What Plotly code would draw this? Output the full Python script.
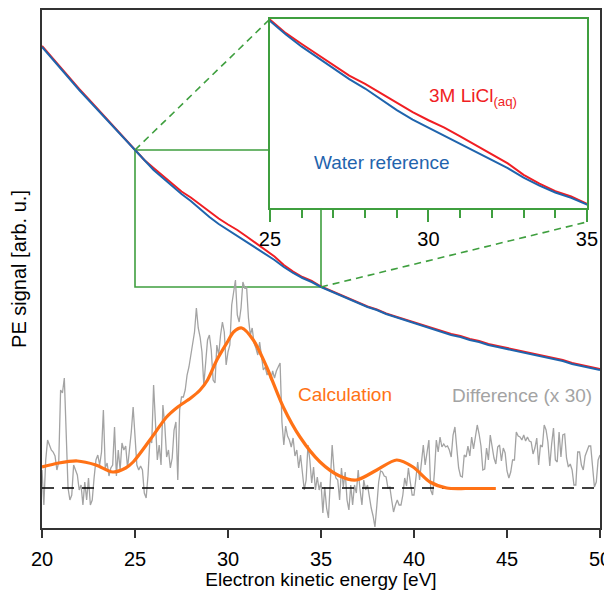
import numpy as np
import plotly.graph_objects as go

# main spectra (arb. u.), sampled every 0.5 eV
energy = np.arange(20, 50.01, 0.5)
water_ref = [481, 470, 459, 449, 438, 428, 418, 408, 397, 387,
             377, 367, 358, 350, 342, 334, 327, 319, 311, 304,
             298, 292, 286, 280, 274, 268, 261, 255, 250, 246,
             241, 237, 233, 229, 225, 221, 218, 214, 211, 208,
             205, 202, 199, 196, 193, 191, 188, 186, 183, 181,
             179, 177, 175, 173, 171, 169, 167, 164, 162, 160, 158]
licl = [482, 471, 460, 450, 439, 429, 419, 409, 398, 388,
        378, 368, 360, 352, 344, 336.5, 330.5, 323.5, 316, 309.5,
        303.5, 298, 291.5, 285, 278, 271.5, 263, 256.5, 251, 247,
        241.5, 237.5, 233.5, 229.5, 225.5, 221.5, 218.5, 214.5, 211.5, 208.5,
        206, 203, 200, 197, 194, 192, 189, 187, 184, 182,
        180, 178, 176, 174, 172, 170, 168, 165, 163, 161, 159]

# difference spectrum (x 30), 0.1 eV grid
diff_energy = np.round(np.linspace(20, 50, 301), 1)
diff_x30 = [
    58, 23, 68, 88, 83, 78, 76, 72, 58, 66,
    138, 135, 150, 98, 40, 28, 33, 63, 58, 53,
    38, 43, 23, 46, 28, 50, 23, 28, 50, 68,
    73, 63, 76, 118, 60, 65, 52, 60, 63, 101,
    52, 78, 58, 85, 78, 82, 60, 76, 96, 121,
    85, 63, 58, 62, 58, 35, 30, 53, 88, 85,
    143, 108, 68, 83, 63, 123, 103, 71, 78, 60,
    70, 98, 106, 48, 118, 131, 131, 138, 153, 161,
    173, 188, 196, 220, 200, 191, 176, 143, 166, 188,
    193, 178, 148, 145, 183, 173, 193, 206, 196, 163,
    176, 183, 223, 236, 248, 213, 206, 220, 246, 240,
    241, 210, 193, 200, 185, 180, 173, 186, 173, 158,
    161, 153, 156, 148, 157, 150, 157, 161, 165, 106,
    83, 102, 92, 88, 81, 90, 72, 78, 60, 73,
    55, 38, 48, 83, 68, 45, 61, 38, 51, 38,
    46, 15, 41, 20, 10, 53, 83, 58, 50, 48,
    28, 60, 41, 56, 28, 18, 43, 23, 43, 35,
    58, 38, 23, 48, 38, 43, 30, 20, 12, 1,
    22, 46, 57, 56, 52, 51, 40, 41, 28, 16,
    23, 28, 23, 23, 33, 50, 42, 60, 46, 33,
    33, 53, 66, 48, 66, 83, 63, 78, 88, 38,
    33, 56, 88, 76, 91, 81, 84, 81, 82, 78,
    71, 93, 101, 80, 60, 52, 51, 73, 71, 82,
    72, 91, 79, 91, 103, 94, 82, 58, 59, 80,
    68, 93, 79, 70, 64, 81, 83, 67, 80, 75,
    57, 50, 56, 68, 68, 96, 92, 91, 88, 93,
    87, 91, 87, 86, 74, 80, 90, 63, 83, 81,
    103, 98, 86, 62, 84, 100, 68, 66, 96, 71,
    93, 94, 70, 61, 64, 58, 43, 43, 76, 76,
    63, 58, 72, 78, 82, 82, 58, 41, 46, 68,
    73]

calc_energy = [20, 20.9, 21.9, 22.9, 23.8, 24.5, 24.9, 25.8, 26.7, 27.3,
               28.0, 28.5, 28.9, 29.4, 30.0, 30.3, 30.74, 31.36, 32.08, 32.97,
               33.87, 34.95, 36.0, 36.9, 38.0, 39.07, 39.95, 40.86, 41.76, 42.8,
               43.6, 44.4]
calc = [61, 65, 67, 63, 56, 60, 66, 88, 111, 121,
        130, 138, 148, 168, 187, 196, 200, 188, 161, 121,
        91, 66, 52, 48, 58, 68, 61, 46, 40, 39.5,
        39.5, 39.5]
baseline = 40

zoom_range = [25, 35]

RED = "#f01e23"
BLUE = "#1f64ad"
ORANGE = "#ff7216"
GRAY = "#a3a3a3"
GREEN = "#3f9f3f"
FONT = "Liberation Sans, Arial, sans-serif"

YMAX = 518
inset_x = [0.4086, 0.9767]
inset_y = [0.6178, 0.9826]

fig = go.Figure()

fig.add_trace(go.Scatter(x=diff_energy, y=diff_x30, mode="lines",
                         line=dict(color=GRAY, width=1.3)))
fig.add_trace(go.Scatter(x=[20, 50], y=[baseline, baseline], mode="lines",
                         line=dict(color="black", width=1.5, dash="12px,8px")))
fig.add_trace(go.Scatter(x=calc_energy, y=calc, mode="lines",
                         line=dict(color=ORANGE, width=3.2, shape="spline", smoothing=0.8)))
fig.add_trace(go.Scatter(x=energy, y=licl, mode="lines",
                         line=dict(color=RED, width=2)))
fig.add_trace(go.Scatter(x=energy, y=water_ref, mode="lines",
                         line=dict(color=BLUE, width=2)))

# inset
fig.add_trace(go.Scatter(x=energy, y=licl, mode="lines", xaxis="x2", yaxis="y2",
                         line=dict(color=RED, width=2)))
fig.add_trace(go.Scatter(x=energy, y=water_ref, mode="lines", xaxis="x2", yaxis="y2",
                         line=dict(color=BLUE, width=2)))

i0 = list(energy).index(zoom_range[0])
i1 = list(energy).index(zoom_range[1])
box_top = licl[i0]
box_bot = water_ref[i1]


def paper(x, y):
    return (x - 20) / 30, y / YMAX


shapes = [
    dict(type="rect", xref="x", yref="y", x0=zoom_range[0], x1=zoom_range[1],
         y0=box_bot, y1=box_top, line=dict(color=GREEN, width=1.6), layer="below"),
]
px0, py0 = paper(zoom_range[0], box_top)
shapes.append(dict(type="line", xref="paper", yref="paper", x0=px0, y0=py0,
                   x1=inset_x[0], y1=inset_y[1],
                   line=dict(color=GREEN, width=1.6, dash="7px,5px")))
px1, py1 = paper(zoom_range[1], box_bot)
shapes.append(dict(type="line", xref="paper", yref="paper", x0=px1, y0=py1,
                   x1=inset_x[1], y1=inset_y[0] - 0.027,
                   line=dict(color=GREEN, width=1.6, dash="7px,5px")))

annotations = [
    dict(text="3M LiCl<sub>(aq)</sub>", x=0.772, y=0.832, font=dict(color=RED, size=19)),
    dict(text="Water reference", x=0.609, y=0.705, font=dict(color=BLUE, size=19)),
    dict(text="Calculation", x=0.543, y=0.257, font=dict(color=ORANGE, size=19)),
    dict(text="Difference (x 30)", x=0.860, y=0.255, font=dict(color=GRAY, size=19)),
]
for a in annotations:
    a.update(xref="paper", yref="paper", showarrow=False, xanchor="center", yanchor="middle")

# page body adds an 8px offset, so the figure is shifted to compensate
fig.update_layout(
    template="none",
    width=612, height=582,
    margin=dict(l=34, r=20, t=2, b=62),
    showlegend=False,
    paper_bgcolor="white", plot_bgcolor="white",
    font=dict(family=FONT, color="black", size=19),
    shapes=shapes,
    annotations=annotations,
    xaxis=dict(range=[20, 50], dtick=5, ticks="outside", ticklen=8, tickwidth=1.5,
               tickcolor="#333", showline=True, linecolor="#333", linewidth=1.8,
               mirror=True, showgrid=False, zeroline=False, automargin=False,
               tickfont=dict(size=20), ticklabelstandoff=4,
               title=dict(text="Electron kinetic energy [eV]", standoff=13,
                          font=dict(size=19))),
    yaxis=dict(range=[0, YMAX], showticklabels=False, ticks="", showline=True,
               linecolor="#333", linewidth=1.8, mirror=True, showgrid=False,
               zeroline=False, automargin=False,
               title=dict(text="PE signal [arb. u.]", standoff=9, font=dict(size=20))),
    xaxis2=dict(domain=inset_x, anchor="y2", range=zoom_range, dtick=5,
                ticks="outside", ticklen=12, tickwidth=1.5, tickcolor=GREEN,
                minor=dict(dtick=1, ticks="outside", ticklen=8, tickwidth=1.5, tickcolor=GREEN),
                showline=True, linecolor=GREEN, linewidth=1.6, mirror=True,
                showgrid=False, zeroline=False, automargin=False,
                tickfont=dict(size=20)),
    yaxis2=dict(domain=inset_y, anchor="x2", range=[box_bot - 2.5, box_top + 0.5],
                showticklabels=False, ticks="", showline=True, linecolor=GREEN,
                linewidth=1.6, mirror=True, showgrid=False, zeroline=False,
                automargin=False),
)

fig.write_html("out.html")
